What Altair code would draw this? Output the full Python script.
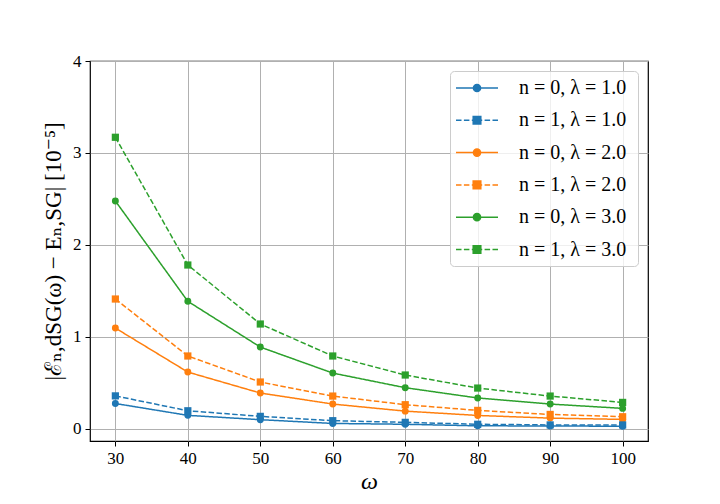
import altair as alt
import pandas as pd

omega = [30, 40, 50, 60, 70, 80, 90, 100]

series_labels = [
    "n = 0,  λ = 1.0",
    "n = 1,  λ = 1.0",
    "n = 0,  λ = 2.0",
    "n = 1,  λ = 2.0",
    "n = 0,  λ = 3.0",
    "n = 1,  λ = 3.0",
]
series_n = [0, 1, 0, 1, 0, 1]
series_colors = ["#1f77b4", "#1f77b4", "#ff7f0e", "#ff7f0e", "#2ca02c", "#2ca02c"]

n0_l1 = [0.273, 0.144, 0.097, 0.056, 0.047, 0.030, 0.029, 0.025]
n1_l1 = [0.356, 0.194, 0.133, 0.086, 0.068, 0.047, 0.040, 0.040]
n0_l2 = [1.094, 0.615, 0.387, 0.267, 0.190, 0.143, 0.114, 0.100]
n1_l2 = [1.410, 0.790, 0.507, 0.354, 0.260, 0.198, 0.154, 0.129]
n0_l3 = [2.477, 1.385, 0.887, 0.604, 0.445, 0.333, 0.267, 0.220]
n1_l3 = [3.170, 1.780, 1.138, 0.790, 0.583, 0.441, 0.354, 0.285]
values = [n0_l1, n1_l1, n0_l2, n1_l2, n0_l3, n1_l3]

rows = []
for lab, n, vals in zip(series_labels, series_n, values):
    for w, v in zip(omega, vals):
        rows.append({"series": lab, "n": n, "omega": w, "value": v})
df = pd.DataFrame(rows)

# legend glyphs: line + marker (circle for n=0, dashed line + square for n=1)
circ_path = ("M-2.1,0L2.1,0M0.36,0A0.36,0.36,0,1,1,-0.36,0"
             "A0.36,0.36,0,1,1,0.36,0Z")
sq_path = ("M-2.1,0L-1.55,0M-1.31,0L-0.76,0M-0.52,0L-0.38,0"
           "M0.38,0L0.52,0M0.76,0L1.31,0M1.55,0L2.1,0"
           "M-0.38,-0.38L0.38,-0.38L0.38,0.38L-0.38,0.38Z")
legend_shapes = [circ_path if n == 0 else sq_path for n in series_n]

FONT = "Liberation Serif, DejaVu Serif, serif"

xscale = alt.Scale(domain=[26.5, 103.5], nice=False, zero=False)
yscale = alt.Scale(domain=[-0.135, 4], nice=False, zero=False)
cscale = alt.Scale(domain=series_labels, range=series_colors)

xenc = alt.X("omega:Q", scale=xscale,
             axis=alt.Axis(values=omega, title="ω", titleFontStyle="italic",
                           titleFontSize=24, titleFontWeight="normal",
                           titleX=279, titleY=40, titleBaseline="middle",
                           titleAlign="center"))
yenc = alt.Y("value:Q", scale=yscale,
             axis=alt.Axis(values=[0, 1, 2, 3, 4], format="d",
                           title="|ℰₙ,dSG(ω) − Eₙ,SG|  [10⁻⁵]",
                           titleFontSize=23, titleFontWeight="normal",
                           titleAngle=270, titleX=-37, titleY=190,
                           titleBaseline="middle", titleAlign="center"))

legend_layer = alt.Chart(df).mark_point(filled=True, opacity=0, strokeWidth=1.5).encode(
    x=xenc, y=yenc,
    color=alt.Color("series:N", scale=cscale, title=None,
                    legend=alt.Legend(orient="top-right", offset=10, symbolOpacity=1,
                                      symbolSize=400, symbolOffset=10,
                                      labelOffset=31, rowPadding=11.3,
                                      padding=6, labelFont=FONT, labelFontSize=20,
                                      labelColor="black", labelLimit=300,
                                      fillColor="rgba(255,255,255,0.8)",
                                      strokeColor="#cccccc", cornerRadius=4,
                                      symbolStrokeWidth=1.5)),
    stroke=alt.Stroke("series:N", scale=alt.Scale(domain=series_labels, range=series_colors),
                      title=None, legend=alt.Legend(symbolOpacity=1, symbolSize=400)),
    shape=alt.Shape("series:N", scale=alt.Scale(domain=series_labels, range=legend_shapes),
                    title=None, legend=alt.Legend(symbolOpacity=1, symbolSize=400)),
)

lines = alt.Chart(df).mark_line(strokeWidth=1.5).encode(
    x="omega:Q", y="value:Q",
    color=alt.Color("series:N", scale=cscale, legend=None),
    strokeDash=alt.StrokeDash("n:N", scale=alt.Scale(domain=[0, 1], range=[[1, 0], [5.5, 2.4]]), legend=None),
    detail="series:N",
)

circles = alt.Chart(df).transform_filter("datum.n == 0").mark_point(
    shape="circle", filled=True, size=48, opacity=1).encode(
    x="omega:Q", y="value:Q",
    color=alt.Color("series:N", scale=cscale, legend=None),
)

squares = alt.Chart(df).transform_filter("datum.n == 1").mark_point(
    shape="square", filled=True, size=52, opacity=1).encode(
    x="omega:Q", y="value:Q",
    color=alt.Color("series:N", scale=cscale, legend=None),
)

chart = alt.layer(legend_layer, lines, circles, squares).properties(
    width=558, height=380,
    autosize=alt.AutoSizeParams(type="none"),
    padding={"left": 82, "top": 53, "right": 60, "bottom": 54},
    background="white",
).configure_view(
    stroke="black", strokeWidth=1.2
).configure_axis(
    domain=False, grid=True, gridColor="#b0b0b0", gridWidth=1,
    ticks=True, tickColor="black", tickSize=5, tickWidth=1,
    labelFont=FONT, labelFontSize=17, labelColor="black", labelPadding=4,
    titleFont=FONT, titleColor="black",
)

chart.save("out.html", embed_options={"renderer": "svg", "actions": False})
